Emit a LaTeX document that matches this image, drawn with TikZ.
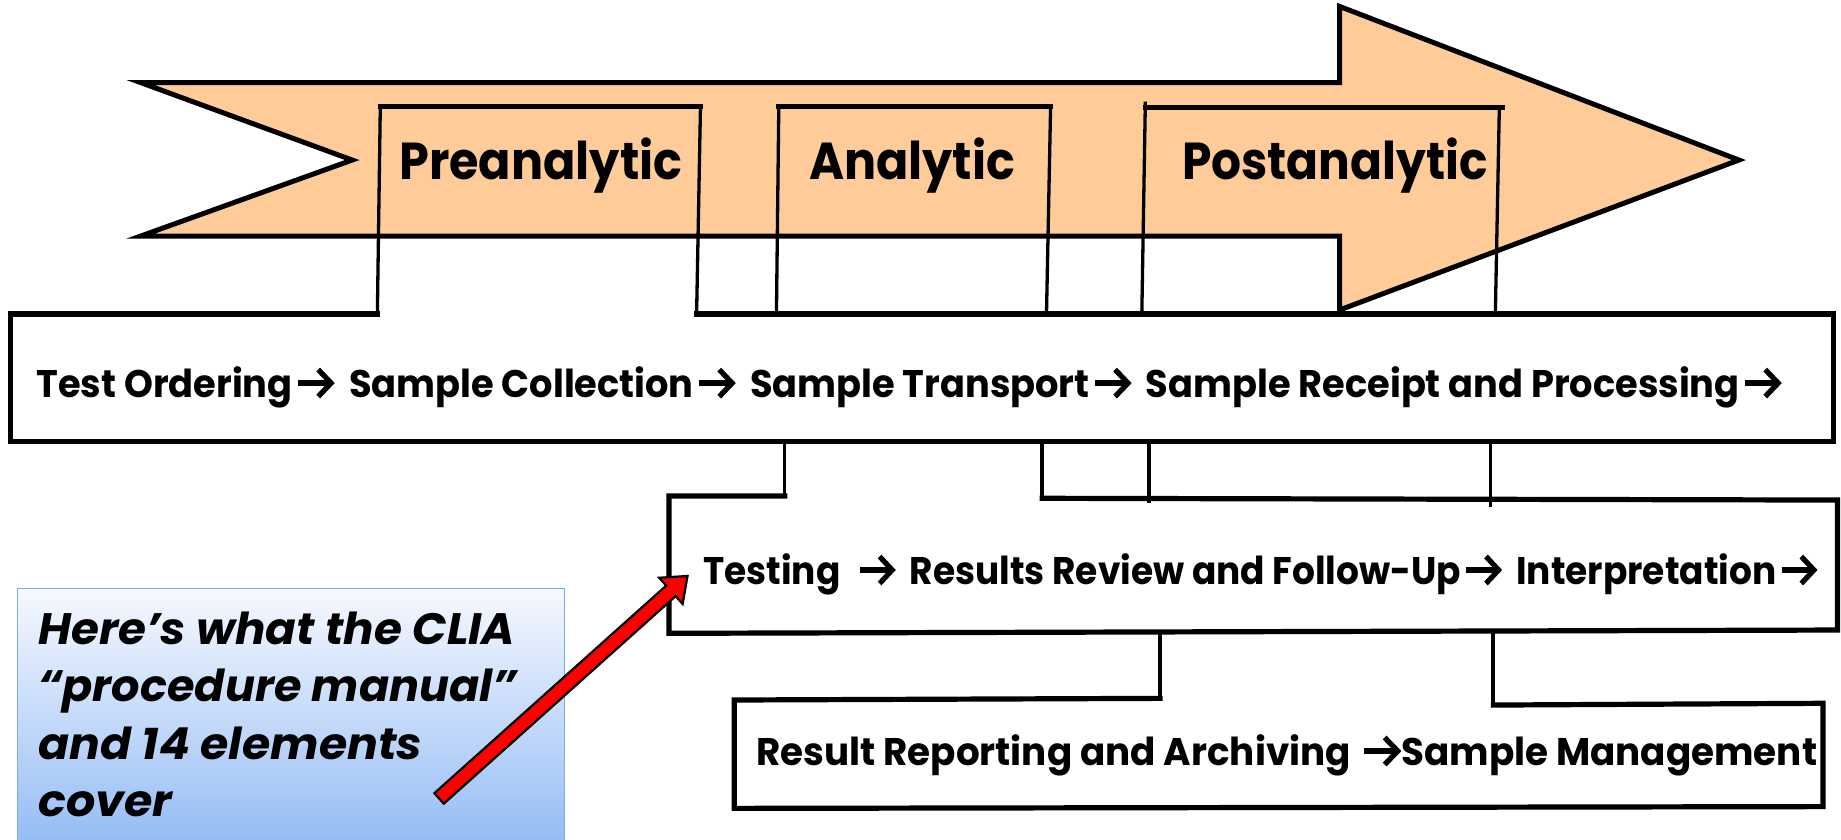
\documentclass[tikz,border=0pt]{standalone}
\usepackage{fontspec}
\usepackage{graphicx}
\setmainfont{Poppins}
% squeeze or stretch a text horizontally to a given width, keeping its height
\newcommand\fitw[2]{\resizebox{#1}{\height}{#2}}
% heavy arrow with an open chevron head, sized to the capitals
\newcommand\ra{\kern3pt\tikz[x=1pt,y=1pt,baseline=0pt,line width=5.4pt]{%
  \draw[line cap=butt] (0,14) -- (34,14);
  \draw[line join=miter] (21,27.5) -- (34.5,14) -- (21,0.5);}\kern1pt}
% the same arrow followed by a wider word gap
\newcommand\rasp{\ra\hspace{7pt} }
\definecolor{peach}{HTML}{FFCC99}
\definecolor{notetop}{HTML}{F6F9FF}
\definecolor{notebottom}{HTML}{93BBF4}
\definecolor{noteedge}{HTML}{7AAEF0}
\definecolor{pointer}{HTML}{FF0000}
\begin{document}
\begin{tikzpicture}[x=1.17411pt,y=-1.17411pt,
  heavy/.style={line width=5.2pt, line cap=rect},
  light/.style={line width=3.3pt},
  txt/.style={inner sep=0pt, anchor=base west},
  rowtxt/.style={txt, font=\bfseries\fontsize{38.5}{40}\selectfont},
  phasetxt/.style={txt, font=\bfseries\fontsize{52}{54}\selectfont},
  notetxt/.style={txt, font=\bfseries\itshape\fontsize{44}{46}\selectfont}]
\useasboundingbox (0,0) rectangle (1568,715);

% the big process arrow
\draw[line width=5pt, fill=peach]
  (120,70.4) -- (1141,70.4) -- (1141,5.5) -- (1481,136.3) -- (1141,264)
  -- (1141,201) -- (120,201) -- (300,136.3) -- cycle;

% phase brackets
\draw[light] (321.4,267.5) -- (323.9,90.9);
\draw[heavy] (323.9,90.9) -- (596.6,90.9);
\draw[light] (596.6,90.9) -- (593.3,267.5);
\draw[light] (661.3,267.5) -- (663.3,90.9);
\draw[heavy] (663.3,90.9) -- (894.8,90.9);
\draw[light] (894.8,90.9) -- (891.3,267.5);
\draw[light] (972.5,267.5) -- (975.5,86.6);
\draw[heavy] (975.5,91.4) -- (1279.6,91.4);
\draw[light] (1277,91.4) -- (1273.6,267.5);

% first row box
\draw[heavy] (321.4,267.5) -- (9,267.5) -- (9,376.2) -- (1561.8,376.2)
  -- (1561.8,267.5) -- (593.3,267.5);
\node[rowtxt] (row1) at (31,338.2)
  {\fitw{1745pt}{Test Ordering\rasp Sample Collection\rasp Sample Transport\rasp Sample Receipt and Processing\ra}};

% links down to the second row
\draw[light] (668.3,376.2) -- (668.3,424);
\draw[light] (887.6,376.2) -- (887.6,424.4);
\draw[light] (978.5,376.2) -- (978.5,428.7);
\draw[light] (1269.4,376.2) -- (1269.4,431.5);

% second row box
\draw[heavy] (668.3,422.4) -- (569.8,422.4) -- (569.8,539.4) -- (1565,536.6)
  -- (1565,425.9) -- (887.6,424.4);
\node[rowtxt] (row2) at (598.8,497.4)
  {\fitw{1114pt}{Testing\hspace{7pt} \rasp Results Review and Follow-Up\rasp Interpretation\ra}};

% links down to the third row
\draw[line width=4pt] (988,539) -- (988,594.8);
\draw[line width=4pt] (1272,537) -- (1272,600.5);

% third row box
\draw[heavy] (988,594.8) -- (625.3,596.2) -- (625.3,688.5) -- (1552.7,687)
  -- (1552.7,599) -- (1272,600.5);
\node[rowtxt] (row3) at (643.9,651.6)
  {\fitw{1061pt}{Result Reporting and Archiving \ra Sample Management}};

% phase titles
\node[phasetxt] (pre)  at (340,153)    {\fitw{283pt}{Preanalytic}};
\node[phasetxt] (ana)  at (689,153)    {\fitw{206pt}{Analytic}};
\node[phasetxt] (post) at (1006.7,153) {\fitw{305.6pt}{Postanalytic}};

% note box
\shade[top color=notetop, bottom color=notebottom] (14.7,501.2) rectangle (480.8,722);
\draw[line width=1.5pt, noteedge] (14.7,722) -- (14.7,501.2) -- (480.8,501.2) -- (480.8,722);
\node[notetxt] (n1) at (32.4,548.5) {\fitw{477pt}{Here’s what the CLIA}};
\node[notetxt] (n2) at (32.4,597.6) {\fitw{479pt}{“procedure manual”}};
\node[notetxt] (n3) at (32.4,647)   {\fitw{384pt}{and 14 elements}};
\node[notetxt] (n4) at (32.4,695.6) {\fitw{134pt}{cover}};

% red pointer with its drop shadow
\coordinate (tail) at (374,680);
\begin{scope}[xshift=-4pt, yshift=-4pt]
  \begin{scope}[shift={(tail)}, rotate=41.84]
    \fill[black] (0,-6) -- (265,-6) -- (265,-15) -- (284,0)
      -- (265,15) -- (265,6) -- (0,6) -- cycle;
  \end{scope}
\end{scope}
\begin{scope}[shift={(tail)}, rotate=41.84]
  \draw[line width=2.2pt, fill=pointer, line join=miter] (0,-6) -- (265,-6) -- (265,-15) -- (284,0)
    -- (265,15) -- (265,6) -- (0,6) -- cycle;
\end{scope}
\end{tikzpicture}
\end{document}
